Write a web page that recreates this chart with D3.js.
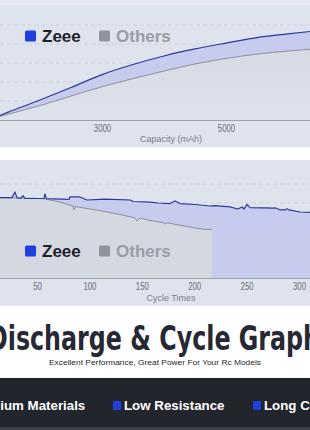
<!DOCTYPE html>
<html><head><meta charset="utf-8">
<script src="https://cdn.jsdelivr.net/npm/d3@7"></script>
<style>
html,body{margin:0;padding:0;background:#fff;overflow:hidden}
svg{display:block}
</style></head>
<body>
<script>
// ---- Discharge (capacity) chart data ----
const capMah = [1200, 1500, 2000, 2500, 3000, 3500, 4000, 4500, 5000, 5500, 6000, 6500];
const capZeee = [0.05, 0.43, 1.05, 1.71, 2.39, 2.92, 3.37, 3.74, 4.05, 4.34, 4.53, 4.71];
const capOthers = [0.03, 0.32, 0.76, 1.26, 1.75, 2.18, 2.58, 2.95, 3.24, 3.47, 3.63, 3.76];
const capTicks = [3000, 5000];

// ---- Cycle chart data ----
const zeeeCycles = [0, 14, 26, 29, 31, 34.7, 36.7, 38.5, 56.7, 57.6, 59, 80.5, 81.5, 91, 97.7, 115, 139, 141.6, 157.8, 165.5, 177, 181.7, 186.5, 200.8, 215, 220, 234, 241.8, 245.6, 247.5, 250.4, 253.3, 278, 281.9, 286.7, 288.5, 290.5, 301, 310.5, 330];
const zeeeRetention = [92.7, 92.7, 92.7, 95.7, 92.6, 92.5, 93.8, 92.3, 92.3, 94.7, 92.2, 91.8, 93.2, 93.1, 91.5, 92, 91.5, 90.7, 90.4, 89.9, 89.6, 91, 89.6, 89.1, 88.3, 88.5, 87.8, 86.7, 87.8, 86.7, 89.2, 87.4, 87.2, 86.2, 86.2, 86.8, 86.2, 85.1, 84.9, 84.8];
const othersCycles = [0, 14, 30, 45, 55.7, 72, 81.5, 84.4, 85.3, 86.7, 100.6, 115, 129.2, 143.5, 145.4, 148.3, 157.8, 170.2, 172, 174, 196, 208.4, 217];
const othersRetention = [92.7, 92.7, 92.6, 92.4, 92.2, 90.4, 88.8, 88.3, 86.2, 88, 86.7, 85.3, 83.8, 81.9, 80.3, 81.9, 80.6, 79.5, 78.7, 79.4, 77.1, 75.9, 75.8];
const cycleTicks = [50, 100, 150, 200, 250, 300];

const legendNames = ["Zeee", "Others"];
const features = ["Premium Materials", "Low Resistance", "Long Cycle Life"];
const titleText = "Discharge & Cycle Graph";
const subtitleText = "Excellent Performance, Great Power For Your Rc Models";

const W = 310, H = 430;
const C = {
  panel: "#dfe3ee", grid: "#c9cedb", axis: "#9ba1ad", zeee: "#2b3a96", others: "#8b909b",
  lav: "#c7ccef", gray: "#d4d8e0", blue: "#1f40dc", graySq: "#8f939b", dark: "#1d1f2a",
  othersTxt: "#9a9da6", tick: "#686d78", band: "#23252d"
};

const svg = d3.select("body").append("svg").attr("width", W).attr("height", H);
const defs = svg.append("defs");
const g1 = defs.append("linearGradient").attr("id", "grayGrad").attr("gradientUnits", "userSpaceOnUse")
  .attr("x1", 0).attr("y1", 45).attr("x2", 0).attr("y2", 118);
g1.append("stop").attr("offset", 0).attr("stop-color", "#d5d9e2");
g1.append("stop").attr("offset", 1).attr("stop-color", "#dee2ed");

// ===== Top panel =====
svg.append("rect").attr("x", 0).attr("y", 0).attr("width", W).attr("height", 147).attr("fill", C.panel);
svg.append("rect").attr("x", 0).attr("y", 0).attr("width", W).attr("height", 5).attr("fill", "#e7e8f1");

const x1 = d3.scaleLinear().domain([1000, 7000]).range([-22, 350]);
const y1 = d3.scaleLinear().domain([0, 6]).range([120, 6]);

const topG = svg.append("g");
topG.selectAll("line.grid").data([1, 2, 3, 4, 5]).join("line")
  .attr("x1", 0).attr("x2", W).attr("y1", d => y1(d)).attr("y2", d => y1(d))
  .attr("stroke", C.grid).attr("stroke-width", 0.8).attr("stroke-dasharray", "4,3");

const capData = capMah.map((m, i) => ({ m, z: capZeee[i], o: capOthers[i] }));
topG.append("path").datum(capData)
  .attr("d", d3.area().x(d => x1(d.m)).y0(d => y1(d.o)).y1(d => y1(d.z)).curve(d3.curveMonotoneX))
  .attr("fill", C.lav);
topG.append("path").datum(capData)
  .attr("d", d3.area().x(d => x1(d.m)).y0(y1(0)).y1(d => y1(d.o)).curve(d3.curveMonotoneX))
  .attr("fill", "url(#grayGrad)");
topG.append("path").datum(capData)
  .attr("d", d3.line().x(d => x1(d.m)).y(d => y1(d.o)).curve(d3.curveMonotoneX))
  .attr("fill", "none").attr("stroke", C.others).attr("stroke-width", 1);
topG.append("path").datum(capData)
  .attr("d", d3.line().x(d => x1(d.m)).y(d => y1(d.z)).curve(d3.curveMonotoneX))
  .attr("fill", "none").attr("stroke", C.zeee).attr("stroke-width", 1.2);

const ax1 = topG.append("g").attr("transform", `translate(0,${y1(0)})`)
  .call(d3.axisBottom(x1).tickValues(capTicks).tickSize(0).tickPadding(5).tickFormat(d3.format("d")));
ax1.select(".domain").attr("stroke", C.axis).attr("stroke-width", 1);
ax1.selectAll("text").attr("fill", C.tick).attr("font-size", 10).attr("transform", "scale(0.78,1)")
  .attr("font-family", "'Liberation Sans',Arial,sans-serif");
topG.append("text").attr("x", 171).attr("y", 142).attr("text-anchor", "middle")
  .attr("font-family", "'Liberation Sans',Arial,sans-serif").attr("font-size", 9).attr("fill", "#7b808b")
  .text("Capacity (mAh)");

function legend(parent, cy) {
  const gL = parent.append("g");
  const items = [{ n: legendNames[0], sq: 25, tx: 42, c: C.blue, t: C.dark }, { n: legendNames[1], sq: 99, tx: 116, c: C.graySq, t: C.othersTxt }];
  items.forEach(it => {
    gL.append("rect").attr("x", it.sq).attr("y", cy - 5.5).attr("width", 11).attr("height", 11).attr("rx", 1.5).attr("fill", it.c);
    gL.append("text").attr("x", it.tx).attr("y", cy + 6).attr("font-family", "'Liberation Sans',Arial,sans-serif")
      .attr("font-weight", "bold").attr("font-size", 17).attr("fill", it.t).text(it.n);
  });
}
legend(topG, 36);

// ===== Bottom panel =====
svg.append("rect").attr("x", 0).attr("y", 160).attr("width", W).attr("height", 146).attr("fill", C.panel);
const x2 = d3.scaleLinear().domain([0, 350]).range([-15.4, 351.4]);
const y2 = d3.scaleLinear().domain([50, 100]).range([278, 184]);
const botG = svg.append("g");
botG.selectAll("line.grid").data([60, 70, 80, 90, 100]).join("line")
  .attr("x1", 0).attr("x2", W).attr("y1", d => y2(d)).attr("y2", d => y2(d))
  .attr("stroke", C.grid).attr("stroke-width", 0.8).attr("stroke-dasharray", "4,3");

const zData = zeeeCycles.map((c, i) => ({ c, v: zeeeRetention[i] }));
const oData = othersCycles.map((c, i) => ({ c, v: othersRetention[i] }));
botG.append("path").datum(zData)
  .attr("d", d3.area().x(d => x2(d.c)).y0(y2(50)).y1(d => y2(d.v)).curve(d3.curveLinear))
  .attr("fill", C.lav);
botG.append("path").datum(oData)
  .attr("d", d3.area().x(d => x2(d.c)).y0(y2(50)).y1(d => y2(d.v)).curve(d3.curveLinear))
  .attr("fill", C.gray);
botG.append("path").datum(oData)
  .attr("d", d3.line().x(d => x2(d.c)).y(d => y2(d.v)))
  .attr("fill", "none").attr("stroke", C.others).attr("stroke-width", 1);
botG.append("path").datum(zData)
  .attr("d", d3.line().x(d => x2(d.c)).y(d => y2(d.v)))
  .attr("fill", "none").attr("stroke", C.zeee).attr("stroke-width", 1.2).attr("stroke-linejoin", "round");

const ax2 = botG.append("g").attr("transform", `translate(0,${y2(50)})`)
  .call(d3.axisBottom(x2).tickValues(cycleTicks).tickSize(0).tickPadding(5));
ax2.select(".domain").attr("stroke", C.axis).attr("stroke-width", 1);
ax2.selectAll("text").attr("fill", C.tick).attr("font-size", 10).attr("transform", "scale(0.78,1)")
  .attr("font-family", "'Liberation Sans',Arial,sans-serif");
botG.append("text").attr("x", 171).attr("y", 301).attr("text-anchor", "middle")
  .attr("font-family", "'Liberation Sans',Arial,sans-serif").attr("font-size", 9).attr("fill", "#7b808b")
  .text("Cycle Times");
legend(botG, 251);

// ===== Title =====
svg.append("text").attr("x", 154).attr("y", 350).attr("text-anchor", "middle")
  .attr("font-family", "'DejaVu Sans',sans-serif").attr("font-weight", "bold").attr("font-size", 34)
  .attr("textLength", 332).attr("lengthAdjust", "spacingAndGlyphs").attr("fill", "#262833").text(titleText);
svg.append("text").attr("x", 155).attr("y", 365).attr("text-anchor", "middle")
  .attr("font-family", "'Liberation Sans',Arial,sans-serif").attr("font-size", 8)
  .attr("textLength", 212).attr("lengthAdjust", "spacingAndGlyphs").attr("fill", "#23252c").text(subtitleText);

// ===== Feature band =====
svg.append("rect").attr("x", 0).attr("y", 378).attr("width", W).attr("height", 52).attr("fill", C.band);
svg.append("rect").attr("x", 0).attr("y", 427).attr("width", W).attr("height", 3).attr("fill", "#3d4048");
const featX = [-33, 124, 264];
features.forEach((f, i) => {
  svg.append("rect").attr("x", featX[i] - 11).attr("y", 401).attr("width", 8).attr("height", 9).attr("rx", 1).attr("fill", C.blue);
  svg.append("text").attr("x", featX[i]).attr("y", 410).attr("font-family", "'Liberation Sans',Arial,sans-serif")
    .attr("font-weight", "bold").attr("font-size", 13.3).attr("fill", "#ffffff").text(f);
});
</script>
</body></html>
